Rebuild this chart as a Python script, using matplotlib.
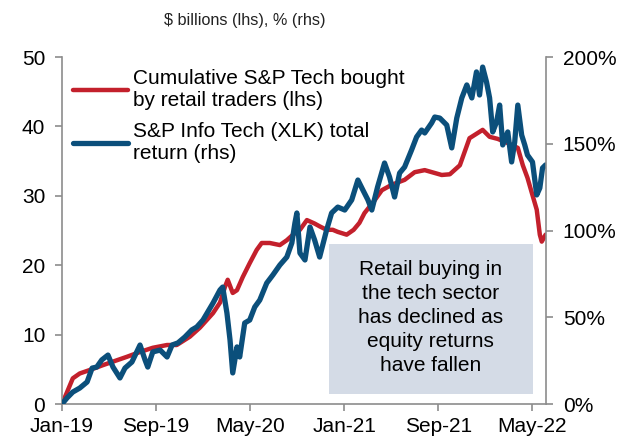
import numpy as np
import pandas as pd
import matplotlib
matplotlib.use("Agg")
import matplotlib.pyplot as plt
import matplotlib.dates as mdates
from matplotlib.patches import Rectangle
from matplotlib.ticker import FuncFormatter

plt.rcParams['font.family'] = ['Liberation Sans', 'DejaVu Sans']

# cumulative S&P tech bought by retail traders, $bn (lhs)
retail_dates = [
    "2019-01-01", "2019-01-14", "2019-01-29", "2019-02-16", "2019-03-14", "2019-04-17",
    "2019-05-23", "2019-06-18", "2019-07-22", "2019-08-24", "2019-09-30", "2019-10-25",
    "2019-11-28", "2019-12-24", "2020-01-27", "2020-02-14", "2020-02-27", "2020-03-05",
    "2020-03-18", "2020-03-29", "2020-04-13", "2020-05-01", "2020-05-19", "2020-06-01",
    "2020-06-22", "2020-07-18", "2020-08-05", "2020-08-21", "2020-09-08", "2020-09-26",
    "2020-10-16", "2020-10-29", "2020-11-16", "2020-12-02", "2020-12-15", "2021-01-07",
    "2021-01-25", "2021-02-09", "2021-02-22", "2021-03-21", "2021-04-08", "2021-05-04",
    "2021-06-06", "2021-07-02", "2021-07-28", "2021-09-10", "2021-10-01", "2021-10-27",
    "2021-11-21", "2021-12-25", "2022-01-12", "2022-02-02", "2022-02-28", "2022-03-26",
    "2022-04-08", "2022-04-20", "2022-05-03", "2022-05-14", "2022-05-22", "2022-05-27",
    "2022-06-06",
]
retail_bought = [
    0.0, 1.7, 3.7, 4.4, 4.9, 5.6,
    6.3, 6.8, 7.5, 8.1, 8.5, 8.5,
    9.7, 11.0, 13.1, 14.6, 16.9, 17.9,
    16.0, 16.4, 18.3, 20.3, 22.2, 23.2,
    23.2, 22.9, 23.6, 24.4, 25.1, 26.5,
    26.0, 25.6, 25.1, 25.1, 24.8, 24.4,
    25.1, 26.1, 27.5, 29.4, 30.8, 31.6,
    32.3, 33.4, 33.7, 33.0, 33.1, 34.4,
    38.3, 39.5, 38.5, 38.2, 37.6, 36.9,
    34.4, 32.6, 30.1, 28.0, 24.4, 23.4,
    24.4,
]

# S&P Info Tech (XLK) total return, % (rhs)
xlk_dates = [
    "2019-01-01", "2019-01-14", "2019-01-29", "2019-02-16", "2019-03-07", "2019-03-20",
    "2019-04-01", "2019-04-14", "2019-04-30", "2019-05-13", "2019-05-31", "2019-06-13",
    "2019-07-01", "2019-07-22", "2019-08-04", "2019-08-11", "2019-08-24", "2019-09-12",
    "2019-09-30", "2019-10-13", "2019-10-28", "2019-11-15", "2019-12-03", "2019-12-16",
    "2020-01-01", "2020-01-27", "2020-02-14", "2020-02-21", "2020-03-03", "2020-03-11",
    "2020-03-18", "2020-03-29", "2020-04-05", "2020-04-18", "2020-05-01", "2020-05-14",
    "2020-05-27", "2020-06-14", "2020-06-30", "2020-07-18", "2020-08-05", "2020-08-18",
    "2020-08-26", "2020-08-31", "2020-09-08", "2020-09-21", "2020-10-04", "2020-10-16",
    "2020-10-29", "2020-11-16", "2020-11-29", "2020-12-15", "2021-01-02", "2021-01-20",
    "2021-02-05", "2021-02-18", "2021-03-03", "2021-03-13", "2021-03-28", "2021-04-15",
    "2021-04-28", "2021-05-11", "2021-05-24", "2021-06-06", "2021-06-24", "2021-07-07",
    "2021-07-20", "2021-07-28", "2021-08-15", "2021-08-23", "2021-09-05", "2021-09-23",
    "2021-10-06", "2021-10-19", "2021-11-01", "2021-11-14", "2021-11-27", "2021-12-09",
    "2021-12-17", "2021-12-25", "2022-01-04", "2022-01-12", "2022-01-20", "2022-01-30",
    "2022-02-07", "2022-02-15", "2022-02-28", "2022-03-10", "2022-03-18", "2022-03-26",
    "2022-04-05", "2022-04-13", "2022-04-20", "2022-05-03", "2022-05-14", "2022-05-22",
    "2022-05-29", "2022-06-06",
]
xlk_return = [
    0.0, 3.5, 6.9, 9.2, 12.7, 20.7,
    21.3, 25.4, 28.2, 21.3, 15.0, 20.7,
    24.2, 34.0, 25.4, 21.3, 30.0, 31.1,
    27.1, 34.0, 35.2, 38.6, 42.7, 44.4,
    48.4, 58.2, 65.7, 67.4, 52.4, 36.9,
    17.9, 32.9, 27.1, 46.7, 48.4, 55.9,
    59.9, 69.7, 74.4, 80.1, 84.7, 92.8,
    104.3, 110.1, 87.0, 83.0, 102.0, 94.5,
    84.7, 100.3, 110.1, 113.5, 111.8, 117.6,
    129.1, 123.3, 117.6, 111.8, 125.1, 138.9,
    130.8, 119.3, 133.1, 136.6, 146.4, 153.9,
    157.9, 156.2, 162.0, 165.4, 164.8, 160.8,
    147.6, 164.8, 176.4, 183.9, 176.4, 191.4,
    178.1, 194.2, 185.6, 176.4, 156.8, 162.5,
    172.3, 149.3, 156.8, 139.5, 151.0, 172.3,
    155.0, 149.3, 143.5, 139.5, 120.5, 124.5,
    136.0, 137.8,
]

tick_dates = ["2019-01-01", "2019-09-01", "2020-05-01", "2021-01-01", "2021-09-01", "2022-05-01"]

note_text = "Retail buying in\nthe tech sector\nhas declined as\nequity returns\nhave fallen"

red = "#C3202C"
blue = "#0B4F7B"
grey = "#8C8C8C"

fig = plt.figure(figsize=(6.34, 4.38), dpi=100)
ax = fig.add_axes([62 / 634, 34 / 438, 484 / 634, 347 / 438])
ax2 = ax.twinx()

l1, = ax.plot(pd.to_datetime(retail_dates), retail_bought, color=red, lw=3.2,
              solid_capstyle="round", solid_joinstyle="round",
              label="Cumulative S&P Tech bought\nby retail traders (lhs)")
l2, = ax2.plot(pd.to_datetime(xlk_dates), xlk_return, color=blue, lw=3.8,
               solid_capstyle="round", solid_joinstyle="round",
               label="S&P Info Tech (XLK) total\nreturn (rhs)")

ax.set_xlim(pd.Timestamp("2019-01-01"), pd.Timestamp("2022-06-07"))
ax.set_ylim(0, 50)
ax2.set_ylim(0, 200)
ax.set_yticks(np.arange(0, 51, 10))
ax2.set_yticks(np.arange(0, 201, 50))
ax2.yaxis.set_major_formatter(FuncFormatter(lambda v, p: f"{v:.0f}%"))
ax.set_xticks(pd.to_datetime(tick_dates))
ax.xaxis.set_major_formatter(mdates.DateFormatter("%b-%y"))

for a in (ax, ax2):
    a.spines["top"].set_visible(False)
    for s in ("left", "right", "bottom"):
        a.spines[s].set_color(grey)
        a.spines[s].set_linewidth(1.2)
    a.tick_params(colors=grey, labelcolor="black", labelsize=15, length=5, width=1.2, pad=7)
ax.spines["right"].set_visible(False)
ax2.spines["left"].set_visible(False)
ax2.spines["bottom"].set_visible(False)
ax.tick_params(axis="x", pad=4)

# note box
ax2.add_patch(Rectangle((0.552, 0.029), 0.421, 0.432, transform=ax2.transAxes,
                        facecolor="#D4DBE6", edgecolor="none", zorder=5))
ax2.text(0.762, 0.25, note_text, transform=ax2.transAxes, ha="center", va="center",
         fontsize=15, linespacing=1.33, zorder=6)

leg = ax2.legend(handles=[l1, l2], loc="upper left", bbox_to_anchor=(0.023, 0.965),
                 frameon=False, fontsize=15, handlelength=2.65, handletextpad=0.2,
                 labelspacing=0.55, borderaxespad=0, borderpad=0)
for t in leg.get_texts():
    t.set_linespacing(1.22)

fig.text(245 / 634, 1 - 20 / 438, "$ billions (lhs), % (rhs)", ha="center", va="center",
         fontsize=11.7, color="#222222")

fig.savefig("out.png", dpi=100)
